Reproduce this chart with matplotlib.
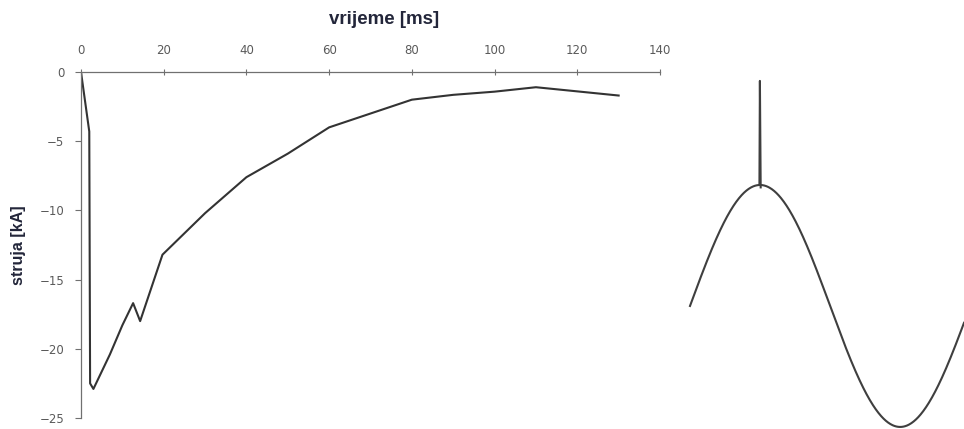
import numpy as np
import matplotlib
matplotlib.use("Agg")
from matplotlib import pyplot as plt

# short-circuit current trace
time_ms = [0, 2, 2.2, 3, 7, 10, 12.6, 14.3, 19.7, 30, 40, 50, 60, 70, 80, 90, 100, 110, 120, 130]
current_ka = [0, -4.3, -22.5, -22.9, -20.4, -18.3, -16.7, -18.0, -13.2, -10.2, -7.6, -5.9,
              -4.0, -3.0, -2.0, -1.65, -1.42, -1.1, -1.4, -1.7]

x_ticks = [0, 20, 40, 60, 80, 100, 120, 140]
y_ticks = [0, -5, -10, -15, -20, -25]

# voltage wave with a transient spike at its crest (per unit, phase in degrees)
wave_amplitude = 1.0
wave_end_deg = 352
spike_deg = [89.2, 89.8, 90.8]
spike_pu = [1.0, 1.86, 0.98]

W, H = 964, 429
fig = plt.figure(figsize=(W / 100, H / 100), dpi=100)

tick_font = dict(family=["Liberation Sans Narrow", "DejaVu Sans"], size=8.5, color="#5a5a5a")
label_font = dict(family=["Liberation Sans", "DejaVu Sans"], weight="bold", color="#23263a")

ax = fig.add_axes([81 / W, (H - 418) / H, (660 - 81) / W, (418 - 72) / H])
ax.plot(time_ms, current_ka, color="#333333", lw=1.5)
ax.set_xlim(0, 140)
ax.set_ylim(-25, 0)
for side in ["right", "bottom"]:
    ax.spines[side].set_visible(False)
for side in ["top", "left"]:
    ax.spines[side].set_color("#707070")
    ax.spines[side].set_linewidth(0.9)
ax.xaxis.tick_top()
ax.xaxis.set_label_position("top")
ax.set_xticks(x_ticks)
ax.set_yticks(y_ticks)
ax.set_xticklabels([str(v) for v in x_ticks], **tick_font)
ax.set_yticklabels([str(v).replace("-", "\u2212") for v in y_ticks], **tick_font)
ax.tick_params(axis="x", direction="inout", length=5, width=0.8, color="#707070", pad=8)
ax.tick_params(axis="y", direction="out", length=4, width=0.8, color="#707070", pad=8)
ax.set_xlabel("vrijeme [ms]", fontsize=13.5, **label_font)
ax.xaxis.set_label_coords(0.523, 1.14)
ax.set_ylabel("struja [kA]", fontsize=11.5, **label_font)
ax.yaxis.set_label_coords(-0.095, 0.5)

# right-hand wave sketch
ax2 = fig.add_axes([690 / W, 0, (W - 690) / W, (429 - 60) / H])
deg = np.linspace(0, wave_end_deg, 600)
wave = wave_amplitude * np.sin(np.radians(deg))
ax2.plot(deg, wave, color="#3f3f3f", lw=1.5, clip_on=False)
ax2.plot(spike_deg, spike_pu, color="#3f3f3f", lw=1.5, clip_on=False)
ax2.set_xlim(0, wave_end_deg)
ax2.set_ylim(-1.017, 2.033)
ax2.axis("off")

fig.savefig("out.png", dpi=100)
